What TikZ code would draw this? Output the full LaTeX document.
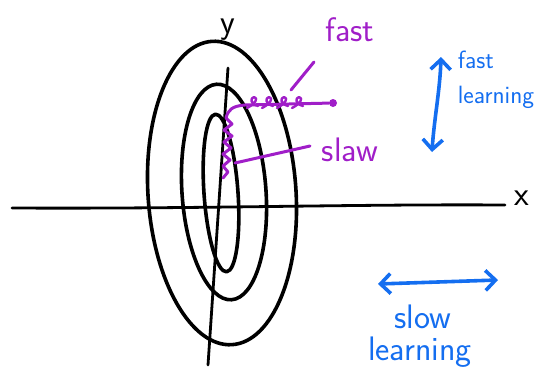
\documentclass[tikz,border=0pt]{standalone}
\usetikzlibrary{arrows.meta}
\definecolor{mag}{RGB}{160,30,200}
\definecolor{blu}{RGB}{20,110,240}
\tikzset{
  ink/.style={line width=3.6pt, line cap=round, line join=round},
  contour/.style={ink, black},
  magline/.style={ink, mag, line width=3pt},
  bluarrow/.style={ink, blu, {Straight Barb[length=10pt,width=20pt]}-{Straight Barb[length=10pt,width=20pt]}},
  handtext/.style={font=\sffamily\fontsize{34}{36}\selectfont, inner sep=0pt},
}
\begin{document}
\begin{tikzpicture}[x=1pt,y=-1pt]
\useasboundingbox (0,0) rectangle (544,386);
% axes
\coordinate (xa) at (12,208);
\coordinate (xb) at (505,205);
\coordinate (ya) at (228,68);
\coordinate (yb) at (208,365);
\draw[ink, line width=2.8pt] (xa) .. controls (200,209) and (350,204) .. (xb);
\draw[ink, line width=2.8pt] (ya) -- (yb);
\node[handtext] (xl) at (522,198) {x};
\node[handtext] (yl) at (228,30) {y};
% contours
\draw[contour] (222,193) ellipse [x radius=74, y radius=152, rotate=3.8];
\draw[contour] (224,192) ellipse [x radius=42, y radius=108, rotate=4];
\draw[contour] (221,193) ellipse [x radius=17, y radius=79, rotate=4];
% magenta path
\node[circle, fill=mag, minimum size=8pt, inner sep=0pt] (dot) at (333,103) {};
\draw[magline] (dot) -- (245,105)
  .. controls (232,106) and (228,110) .. (226,118)
  -- (232,124) -- (224,130) -- (232,136) -- (224,142) -- (231,148) -- (223,154)
  -- (230,160) -- (223,166) -- (228,172) -- (223,178);
\foreach \xx in {255,270,285,300}{
  \draw[magline, line width=2.4pt] (\xx-8,108) .. controls (\xx,104) and (\xx+4,98) .. (\xx-1,97) .. controls (\xx-5,98) and (\xx-5,104) .. (\xx+3,106);
}
\node[handtext, text=mag] (fast) at (350,30) {fast};
\node[handtext, text=mag] (slow) at (350,150) {slaw};
\coordinate (fp) at (291,90);
\coordinate (sp) at (235,163);
\draw[magline] (314,62) -- (fp);
\draw[magline] (310,146) -- (sp);
% blue annotations
\coordinate (va) at (441,57);
\coordinate (vb) at (432,152);
\draw[bluarrow] (va) .. controls (440,90) and (434,120) .. (vb);
\node[handtext, text=blu, align=left, font=\sffamily\fontsize{25}{35}\selectfont] (fl) at (496,80) {fast\\learning};
\coordinate (ha) at (378,284);
\coordinate (hb) at (498,280);
\draw[bluarrow] (ha) -- (hb);
\node[handtext, text=blu] (sl) at (423,317) {slow};
\node[handtext, text=blu] (lr) at (420,352) {learning};
\end{tikzpicture}
\end{document}
